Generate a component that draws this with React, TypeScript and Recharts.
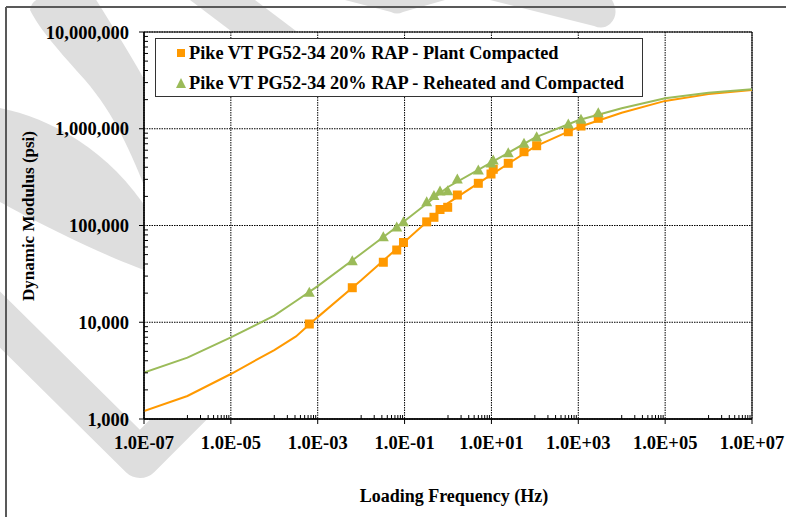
import React from 'react';
import {
  ComposedChart,
  Line,
  Scatter,
  XAxis,
  YAxis,
  CartesianGrid,
  Legend,
  ReferenceArea,
} from 'recharts';

// Measured dynamic modulus points at their reduced loading frequencies (Hz)
const frequencyHz = [
  0.00064, 0.00625, 0.0324, 0.066, 0.0944, 0.323, 0.475, 0.655, 0.984, 1.64,
  4.99, 9.77, 11.0, 24.4, 56.2, 110, 589, 1153, 2884,
];
const plantCompactedPsi = [
  9590, 22750, 41700, 55800, 66700, 109000, 121600, 146300, 154200, 206600,
  273000, 340600, 380700, 439500, 579000, 668000, 932000, 1067000, 1282000,
];
const reheatedCompactedPsi = [
  20400, 43300, 76600, 96400, 109400, 176200, 204000, 227300, 229000, 302600,
  374700, 442600, 475000, 565500, 707400, 827500, 1120000, 1252000, 1465000,
];

// Master curves evaluated across the full frequency range
const fitFrequencyHz = [
  1e-7, 1e-6, 1e-5, 1e-4, 3.16e-4, 1e-3, 1e-2, 1e-1, 1, 10, 100, 1e3, 1e4, 1e5,
  1e6, 1e7,
];
const plantFitPsi = [
  1211, 1730, 2917, 5164, 7130, 11300, 27100, 67900, 170400, 335900, 654000,
  1038000, 1466000, 1940000, 2280000, 2510000,
];
const reheatedFitPsi = [
  3013, 4305, 6990, 11690, 16600, 23660, 50970, 111300, 250000, 448800, 808300,
  1223000, 1627000, 2064000, 2358000, 2557000,
];

const seriesNames = [
  'Pike VT PG52-34 20% RAP - Plant Compacted',
  'Pike VT PG52-34 20% RAP - Reheated and Compacted',
];

// Labelled (major) ticks and the decades that carry minor ticks
const xTicks = [1e-7, 1e-5, 1e-3, 1e-1, 1e1, 1e3, 1e5, 1e7];
const yTicks = [1e3, 1e4, 1e5, 1e6, 1e7];
const xMinorDecades = [-6, -4, -2, 0, 2, 4, 6];
const yMinorDecades = [3, 4, 5, 6];

const xMinorTicks: number[] = [];
xMinorDecades.forEach((d) => {
  for (let m = 1; m <= 9; m++) xMinorTicks.push(m * Math.pow(10, d));
});
const yMinorTicks: number[] = [];
yMinorDecades.forEach((d) => {
  for (let m = 2; m <= 9; m++) yMinorTicks.push(m * Math.pow(10, d));
});
const xAllTicks = [...xTicks, ...xMinorTicks].sort((a, b) => a - b);
const yAllTicks = [...yTicks, ...yMinorTicks].sort((a, b) => a - b);

const plantPoints = frequencyHz.map((f, i) => ({ f, e: plantCompactedPsi[i] }));
const reheatedPoints = frequencyHz.map((f, i) => ({ f, e: reheatedCompactedPsi[i] }));
const plantFit = fitFrequencyHz.map((f, i) => ({ f, e: plantFitPsi[i] }));
const reheatedFit = fitFrequencyHz.map((f, i) => ({ f, e: reheatedFitPsi[i] }));

const ORANGE = '#FF9900';
const GREEN = '#9BBB59';
const SERIF = '"Liberation Serif", "Times New Roman", serif';

const X_TICK_SIZE = 5;
const X_TICK_MARGIN = 12;
const Y_TICK_SIZE = 5;
const Y_TICK_MARGIN = 10;
const MINOR_LEN = 4;

const isMajor = (v: number, majors: number[]) =>
  majors.some((t) => Math.abs(Math.log10(t) - Math.log10(v)) < 1e-6);

const formatFrequency = (v: number) => {
  const exp = Math.round(Math.log10(v));
  return `1.0E${exp < 0 ? '-' : '+'}${String(Math.abs(exp)).padStart(2, '0')}`;
};
const formatModulus = (v: number) => Math.round(v).toLocaleString('en-US');

// Bottom axis: labelled ticks point down, minor ticks point up into the plot
const FrequencyTick = (props: any) => {
  const { x, y, payload } = props;
  const v = payload.value;
  const axisY = y - X_TICK_SIZE - X_TICK_MARGIN;
  const major = isMajor(v, xTicks);
  return (
    <g>
      <line
        x1={x}
        x2={x}
        y1={axisY}
        y2={major ? axisY + X_TICK_SIZE : axisY - MINOR_LEN}
        stroke="#000"
        strokeWidth={1}
      />
      {major && (
        <text
          x={x}
          y={y}
          dy="0.71em"
          textAnchor="middle"
          fontFamily={SERIF}
          fontWeight={700}
          fontSize={18.5}
          fill="#000"
        >
          {formatFrequency(v)}
        </text>
      )}
    </g>
  );
};

// Left axis: labelled ticks point left, minor ticks point right into the plot
const ModulusTick = (props: any) => {
  const { x, y, payload } = props;
  const v = payload.value;
  const axisX = x + Y_TICK_SIZE + Y_TICK_MARGIN;
  const major = isMajor(v, yTicks);
  return (
    <g>
      <line
        x1={axisX}
        x2={major ? axisX - Y_TICK_SIZE : axisX + MINOR_LEN}
        y1={y}
        y2={y}
        stroke="#000"
        strokeWidth={1}
      />
      {major && (
        <text
          x={x}
          y={y}
          dy="0.355em"
          textAnchor="end"
          fontFamily={SERIF}
          fontWeight={700}
          fontSize={18.5}
          fill="#000"
        >
          {formatModulus(v)}
        </text>
      )}
    </g>
  );
};

const SquareMarker = (props: any) => {
  const { cx, cy } = props;
  return <rect x={cx - 4.5} y={cy - 4.5} width={9} height={9} fill={ORANGE} />;
};

const TriangleMarker = (props: any) => {
  const { cx, cy } = props;
  return (
    <polygon
      points={`${cx},${cy - 5.5} ${cx + 5.5},${cy + 4.5} ${cx - 5.5},${cy + 4.5}`}
      fill={GREEN}
    />
  );
};

const XTitle = (props: any) => {
  const { viewBox } = props;
  const cx = viewBox.x + viewBox.width / 2 + 6;
  return (
    <text
      x={cx}
      y={502}
      textAnchor="middle"
      fontFamily={SERIF}
      fontWeight={700}
      fontSize={18}
      fill="#000"
    >
      Loading Frequency (Hz)
    </text>
  );
};

const YTitle = (props: any) => {
  const { viewBox } = props;
  const cx = viewBox.x + 34;
  const cy = 216;
  return (
    <text
      x={cx}
      y={cy}
      transform={`rotate(-90 ${cx} ${cy})`}
      textAnchor="middle"
      fontFamily={SERIF}
      fontWeight={700}
      fontSize={17}
      fill="#000"
    >
      Dynamic Modulus (psi)
    </text>
  );
};

const LegendBox = (props: any) => {
  const payload = (props.payload || []).filter((p: any) => p.type !== 'none');
  return (
    <div
      style={{
        position: 'relative',
        boxSizing: 'border-box',
        width: 488,
        height: 59,
        border: '1px solid #333',
        background: '#fff',
        fontFamily: SERIF,
        fontWeight: 700,
        fontSize: 18.3,
        color: '#000',
      }}
    >
      {payload.map((entry: any, i: number) => (
        <div
          key={entry.value}
          style={{
            position: 'absolute',
            left: 0,
            top: 4 + i * 30,
            height: 20,
            lineHeight: '20px',
            whiteSpace: 'nowrap',
          }}
        >
          <svg
            width={12}
            height={12}
            style={{ position: 'absolute', left: 19, top: 4 }}
          >
            {entry.type === 'triangle' ? (
              <polygon points="6,1 11,11 1,11" fill={entry.color} />
            ) : (
              <rect x={2} y={2} width={8} height={8} fill={entry.color} />
            )}
          </svg>
          <span style={{ position: 'absolute', left: 33, top: 0 }}>{entry.value}</span>
        </div>
      ))}
    </div>
  );
};

// Page frame and the light grey sweeps printed behind the chart
const Backdrop = () => (
  <svg
    width={786}
    height={517}
    style={{ position: 'absolute', left: 0, top: 0 }}
  >
    <g fill="#dedede" stroke="none">
      <path d="M30,10 Q32,-2 45,-2 L95,-2 C115,30 135,62 150,90 L150,200 C130,150 115,115 85,80 C60,52 40,30 30,10 Z" />
      <path d="M0,108 C50,118 110,150 150,214 L150,272 C120,262 60,235 0,202 Z" />
      <path d="M190,0 L255,0 L300,34 L235,34 Z" />
      <path d="M345,0 L445,0 L403,12 Q397,15 391,12 Z" />
      <path d="M490,0 L612,0 Q620,14 610,24 Q603,30 594,26 Z" />
    </g>
    <path
      d="M-30,290 L140,458 L250,348"
      fill="none"
      stroke="#dedede"
      strokeWidth={40}
      strokeLinejoin="round"
    />
    <path d="M6,7 H786 M6,7 V517" fill="none" stroke="#595959" strokeWidth={2} />
  </svg>
);

export default function App() {
  return (
    <div
      style={{
        position: 'absolute',
        left: 0,
        top: 0,
        width: 786,
        height: 517,
        overflow: 'hidden',
        background: '#fff',
      }}
    >
      <Backdrop />
      <div style={{ position: 'absolute', left: 0, top: 0 }}>
        <ComposedChart
          width={786}
          height={517}
          margin={{ top: 32, right: 34, bottom: 0, left: 0 }}
        >
          <CartesianGrid
            fill="#fff"
            fillOpacity={1}
            stroke="#000"
            strokeDasharray="1.5 1"
            verticalValues={xTicks}
            horizontalValues={yTicks}
          />
          <XAxis
            type="number"
            dataKey="f"
            scale="log"
            domain={[1e-7, 1e7]}
            allowDataOverflow
            ticks={xAllTicks}
            interval={0}
            tick={<FrequencyTick />}
            tickLine={false}
            tickSize={X_TICK_SIZE}
            tickMargin={X_TICK_MARGIN}
            height={98}
            axisLine={{ stroke: '#000', strokeWidth: 1.3 }}
            label={<XTitle />}
          />
          <YAxis
            type="number"
            dataKey="e"
            scale="log"
            domain={[1e3, 1e7]}
            allowDataOverflow
            ticks={yAllTicks}
            interval={0}
            tick={<ModulusTick />}
            tickLine={false}
            tickSize={Y_TICK_SIZE}
            tickMargin={Y_TICK_MARGIN}
            width={144}
            axisLine={{ stroke: '#000', strokeWidth: 1.3 }}
            label={<YTitle />}
          />
          <ReferenceArea
            x1={1e-7}
            x2={1e7}
            y1={1e3}
            y2={1e7}
            fill="none"
            stroke="#000"
            strokeWidth={1}
          />
          <Line
            data={plantFit}
            dataKey="e"
            type="linear"
            stroke={ORANGE}
            strokeWidth={2}
            dot={false}
            legendType="none"
            isAnimationActive={false}
          />
          <Line
            data={reheatedFit}
            dataKey="e"
            type="linear"
            stroke={GREEN}
            strokeWidth={2}
            dot={false}
            legendType="none"
            isAnimationActive={false}
          />
          <Scatter
            name={seriesNames[0]}
            data={plantPoints}
            fill={ORANGE}
            legendType="square"
            shape={SquareMarker}
            isAnimationActive={false}
          />
          <Scatter
            name={seriesNames[1]}
            data={reheatedPoints}
            fill={GREEN}
            legendType="triangle"
            shape={TriangleMarker}
            isAnimationActive={false}
          />
          <Legend
            layout="vertical"
            align="center"
            verticalAlign="middle"
            content={<LegendBox />}
            wrapperStyle={{ left: 155, top: 38, width: 488, height: 59 }}
          />
        </ComposedChart>
      </div>
    </div>
  );
}
